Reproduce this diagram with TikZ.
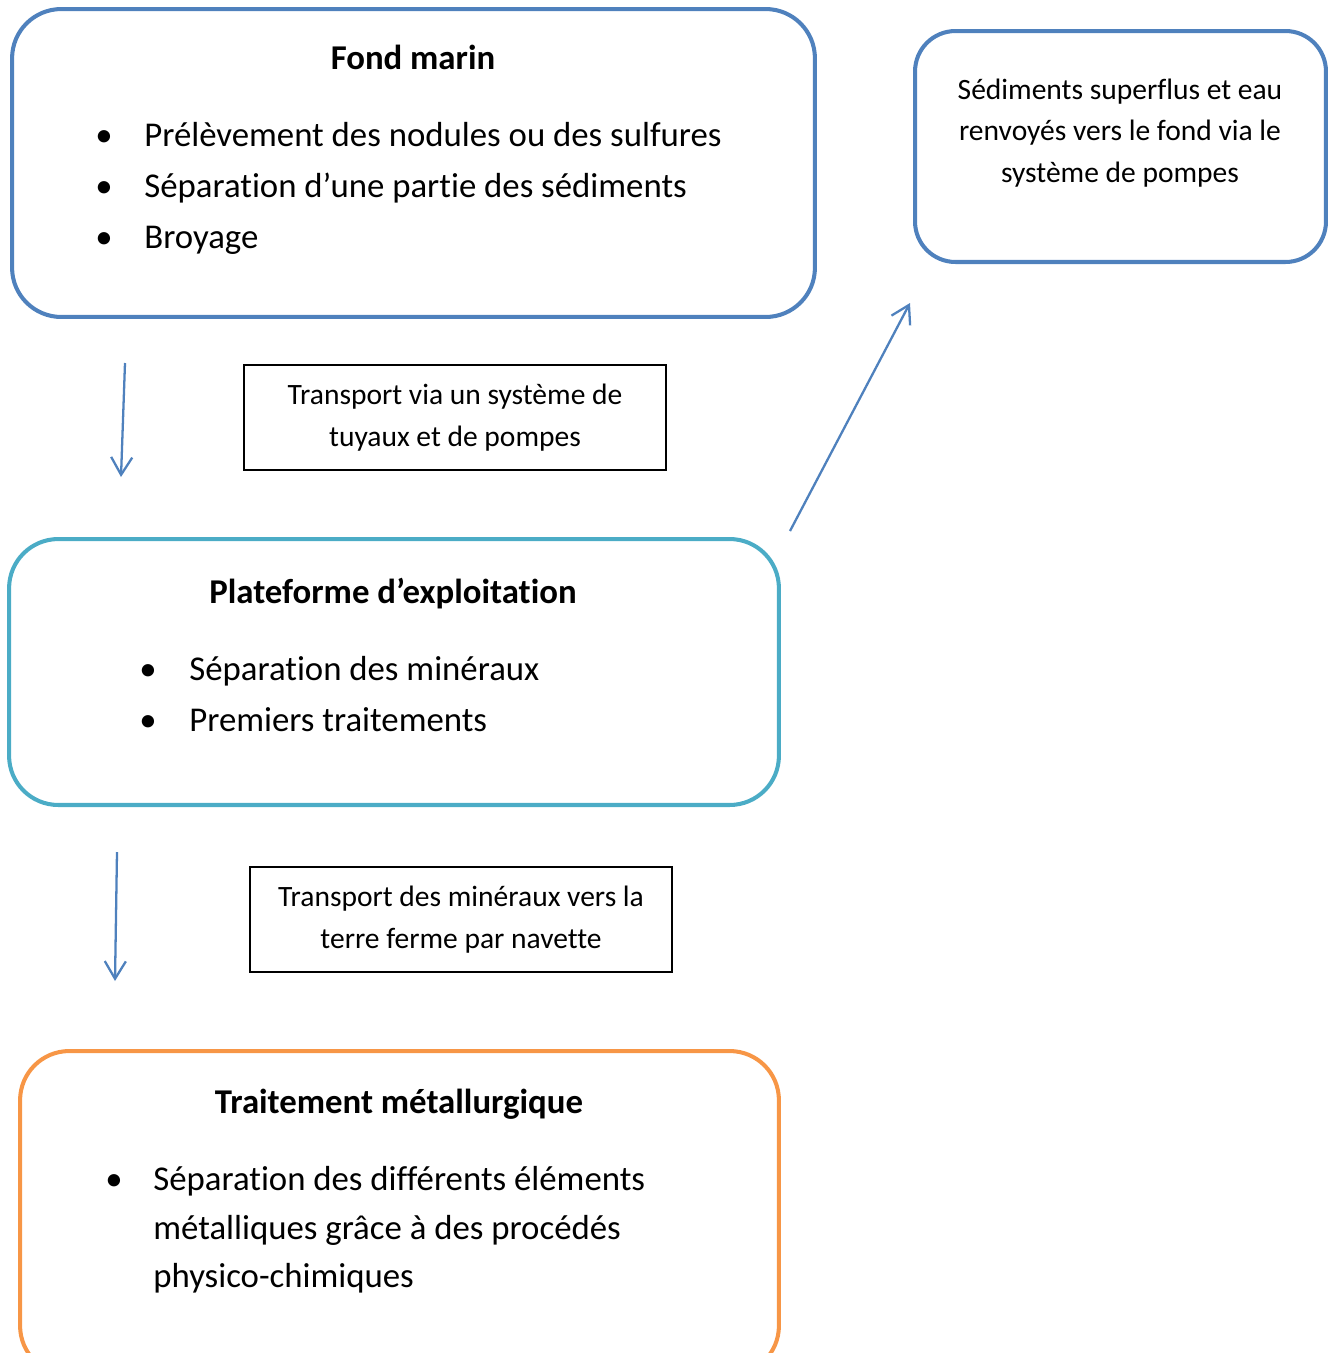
\documentclass[tikz,border=0pt]{standalone}
\usepackage{fontspec}
\setmainfont{Carlito}[Ligatures=NoCommon]
\usetikzlibrary{positioning,arrows.meta}
\definecolor{fondBlue}{HTML}{4F81BD}
\definecolor{platAqua}{HTML}{4BACC6}
\definecolor{traitOrange}{HTML}{F79646}
\newcommand{\bigtxt}{\fontsize{19.8}{27.5}\selectfont}
\newcommand{\smalltxt}{\fontsize{16.8}{23.6}\selectfont}

\begin{document}
\begin{tikzpicture}[x=0.02cm,y=-0.02cm,
  stagebox/.style={draw,rounded corners=28pt,line width=2.3pt,inner sep=0pt},
  transbox/.style={draw,line width=0.9pt,inner sep=0pt,minimum width=8.44cm,minimum height=2.1cm,align=center,font=\smalltxt},
  flowarrow/.style={draw=fondBlue,line width=1.3pt,-{Straight Barb[length=10pt,width=12pt]}},
  titletxt/.style={font=\bigtxt\bfseries,anchor=base},
  itemtxt/.style={font=\bigtxt,anchor=base west,inner sep=0pt},
  dottxt/.style={font=\bigtxt,anchor=base,inner sep=0pt}]
\useasboundingbox (0,0) rectangle (1335,1353);
%% the three stages
\node [stagebox,draw=fondBlue,minimum width=16.06cm,minimum height=6.16cm] (fondBox) at (413.5,163) {};
\node [stagebox,draw=platAqua,minimum width=15.4cm,minimum height=5.32cm] (platBox) at (394,672) {};
\node [stagebox,draw=traitOrange,minimum width=15.18cm,minimum height=6.48cm] (traitBox) at (399.5,1213) {};
%the side box
\node [stagebox,rounded corners=23pt,draw=fondBlue,minimum width=8.22cm,minimum height=4.62cm] (sedBox) at (1120.5,146.5) {};
\node [align=center,font=\smalltxt] (sedText) at (1120,133) {Sédiments superflus et eau\\renvoyés vers le fond via le\\système de pompes};
%titles and items
\node [titletxt] (fondTitle) at (413,69) {Fond marin};
\node [dottxt] (fondDotA) at (104,146) {•};
\node [itemtxt] (fondItemA) at (144,146) {Prélèvement des nodules ou des sulfures};
\node [dottxt] (fondDotB) at (104,197) {•};
\node [itemtxt] (fondItemB) at (144,197) {Séparation d’une partie des sédiments};
\node [dottxt] (fondDotC) at (104,248) {•};
\node [itemtxt] (fondItemC) at (144,248) {Broyage};

\node [titletxt] (platTitle) at (393,603) {Plateforme d’exploitation};
\node [dottxt] (platDotA) at (148,680) {•};
\node [itemtxt] (platItemA) at (189,680) {Séparation des minéraux};
\node [dottxt] (platDotB) at (148,731) {•};
\node [itemtxt] (platItemB) at (189,731) {Premiers traitements};

\node [titletxt] (traitTitle) at (399,1113) {Traitement métallurgique};
\node [dottxt] (traitDot) at (114,1190) {•};
\node [itemtxt] (traitItemA) at (153,1190) {Séparation des différents éléments};
\node [itemtxt] (traitItemB) at (153,1239) {métalliques grâce à des procédés};
\node [itemtxt] (traitItemC) at (153,1287) {physico-chimiques};
%transport boxes
\node [transbox] (transOne) at (455,417.5) {Transport via un système de\\tuyaux et de pompes};
\node [transbox] (transTwo) at (461,919.5) {Transport des minéraux vers la\\terre ferme par navette};
%drawings of arrows
\coordinate (arrOneStart) at (125,363);
\coordinate (arrOneEnd) at (121,477);
\coordinate (arrTwoStart) at (117,852);
\coordinate (arrTwoEnd) at (115,981);
\coordinate (backStart) at (790,531);
\coordinate (backEnd) at (910,303);
\draw [flowarrow] (arrOneStart) -- (arrOneEnd);
\draw [flowarrow] (arrTwoStart) -- (arrTwoEnd);
\draw [flowarrow] (backStart) -- (backEnd);

\end{tikzpicture}
\end{document}
